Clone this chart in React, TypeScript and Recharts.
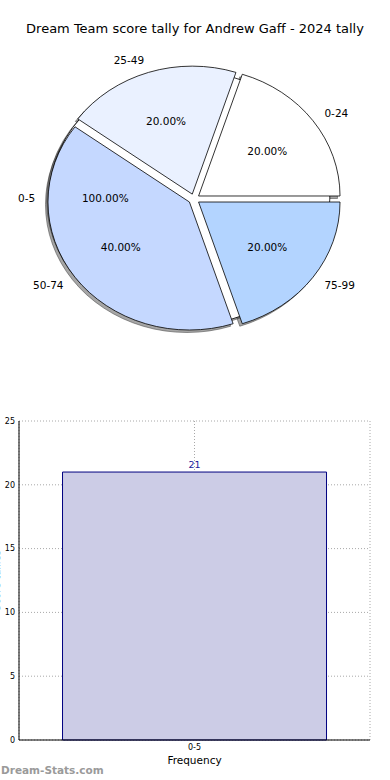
import React from 'react'
import {
  PieChart, Pie, Cell, BarChart, Bar, XAxis, YAxis, CartesianGrid, LabelList,
} from 'recharts'

// pie: share of scores per band (percent)
const bandNames = ['0-24', '25-49', '50-74', '75-99']
const bandShares = [20, 20, 40, 20]
const bandColors = ['#ffffff', '#eaf1ff', '#c5d8ff', '#b3d4ff']

// the second pie (one full slice) that sits under the first one
const lowNames = ['0-5']
const lowShares = [100]

// bar chart: frequency of tallies
const barCats = ['0-5']
const barCounts = [21]
const yTicks = [0, 5, 10, 15, 20, 25]

const FONT = '"DejaVu Sans", Verdana, sans-serif'
const RAD = Math.PI / 180
const ASPECT = 1.105 // the matplotlib pie is a little wider than tall
const EXPLODE = 0.04
const SHADOW = [-2.5, 2.5]

const bandData = bandNames.map((name, i) => ({ name, value: bandShares[i] }))
const lowData = lowNames.map((name, i) => ({ name, value: lowShares[i] }))
const barData = barCats.map((cat, i) => ({ cat, count: barCounts[i] }))

function pt(cx: number, cy: number, rx: number, ry: number, deg: number) {
  return [cx + rx * Math.cos(deg * RAD), cy - ry * Math.sin(deg * RAD)]
}

function sectorPath(cx: number, cy: number, rx: number, ry: number, s: number, e: number) {
  const [x1, y1] = pt(cx, cy, rx, ry, s)
  const [x2, y2] = pt(cx, cy, rx, ry, e)
  const large = Math.abs(e - s) > 180 ? 1 : 0
  const sweep = e > s ? 0 : 1
  return `M${cx},${cy} L${x1},${y1} A${rx},${ry} 0 ${large} ${sweep} ${x2},${y2} Z`
}

function explodedCenter(cx: number, cy: number, r: number, mid: number, explode: number) {
  return [cx + explode * r * ASPECT * Math.cos(mid * RAD), cy - explode * r * Math.sin(mid * RAD)]
}

function makeSector(explode: number, shadow: boolean) {
  return (props: any) => {
    const { cx, cy, outerRadius, startAngle, endAngle, fill } = props
    const mid = (startAngle + endAngle) / 2
    let [ox, oy] = explodedCenter(cx, cy, outerRadius, mid, explode)
    if (shadow) { ox += SHADOW[0]; oy += SHADOW[1] }
    const rx = outerRadius * ASPECT
    const full = Math.abs(endAngle - startAngle) >= 359.99
    const style = shadow
      ? { fill: '#4d4d4d', fillOpacity: 0.5, stroke: '#333', strokeOpacity: 0.6, strokeWidth: 0.8 }
      : { fill, stroke: '#000', strokeWidth: 0.8 }
    if (full) return <ellipse cx={ox} cy={oy} rx={rx} ry={outerRadius} {...style} />
    return <path d={sectorPath(ox, oy, rx, outerRadius, startAngle, endAngle)} {...style} />
  }
}

const sliceShape = makeSector(EXPLODE, false)
const sliceShadow = makeSector(EXPLODE, true)
const lowShape = makeSector(0, false)
const lowShadow = makeSector(0, true)
const noShape = () => <g />

function makeLabel(explode: number) {
  return (props: any) => {
    const { cx, cy, outerRadius, startAngle, endAngle, percent, name } = props
    const mid = (startAngle + endAngle) / 2
    const [ox, oy] = explodedCenter(cx, cy, outerRadius, mid, explode)
    const rx = outerRadius * ASPECT
    const [nx, ny] = pt(ox, oy, rx * 1.1, outerRadius * 1.1, mid)
    const [px, py] = pt(ox, oy, rx * 0.6, outerRadius * 0.6, mid)
    const anchor = Math.cos(mid * RAD) > 0 ? 'start' : 'end'
    return (
      <g fontFamily={FONT} fontSize={10.5} fill="#000">
        <text x={nx} y={ny} textAnchor={anchor} dominantBaseline="central">{name}</text>
        <text x={px} y={py} textAnchor="middle" dominantBaseline="central">{(percent * 100).toFixed(2)}%</text>
      </g>
    )
  }
}

const bandLabel = makeLabel(EXPLODE)
const lowLabel = makeLabel(0)

function CutYLabel(props: any) {
  const { viewBox, value } = props
  const y = viewBox.y + viewBox.height / 2
  const x = viewBox.x - 3.5
  return (
    <text x={x} y={y} transform={`rotate(-90 ${x} ${y})`} textAnchor="middle"
      dominantBaseline="central" fontFamily={FONT} fontSize={10} fill="#000">{value}</text>
  )
}

const pieCommon = { dataKey: 'value', nameKey: 'name', startAngle: 0, endAngle: 360, labelLine: false, isAnimationActive: false }

export default function App() {
  return (
    <div style={{ position: 'absolute', left: 0, top: 0, width: 390, height: 780, background: '#fff', overflow: 'hidden', fontFamily: FONT }}>
      <div style={{ position: 'absolute', top: 21, left: 0, width: 390, textAlign: 'center', fontSize: 13, lineHeight: '16px', color: '#000' }}>
        Dream Team score tally for Andrew Gaff - 2024 tally
      </div>

      <div style={{ position: 'absolute', top: 0, left: 0 }}>
        <PieChart width={390} height={360} margin={{ top: 0, right: 0, bottom: 0, left: 0 }}>
          {/* shadows first, then the full 0-5 disc, then the exploded bands */}
          <Pie {...pieCommon} data={bandData} cx={194} cy={199} outerRadius={128}
            shape={sliceShadow} activeShape={sliceShadow} inactiveShape={sliceShadow} label={false} />
          <Pie {...pieCommon} data={lowData} cx={189.5} cy={198} outerRadius={127}
            shape={lowShadow} activeShape={lowShadow} inactiveShape={lowShadow} label={false} />
          <Pie {...pieCommon} data={lowData} cx={189.5} cy={198} outerRadius={127}
            shape={lowShape} activeShape={lowShape} inactiveShape={lowShape} label={false}>
            <Cell fill="#ffffff" />
          </Pie>
          <Pie {...pieCommon} data={bandData} cx={194} cy={199} outerRadius={128}
            shape={sliceShape} activeShape={sliceShape} inactiveShape={sliceShape} label={bandLabel}>
            {bandData.map((d, i) => <Cell key={d.name} fill={bandColors[i]} />)}
          </Pie>
          <Pie {...pieCommon} data={lowData} cx={189.5} cy={198} outerRadius={127}
            shape={noShape} activeShape={noShape} inactiveShape={noShape} label={lowLabel} />
        </PieChart>
      </div>

      <div style={{ position: 'absolute', top: 400, left: 0 }}>
        <BarChart width={390} height={380} data={barData} barCategoryGap="12.4%"
          margin={{ top: 21, right: 20, bottom: 0, left: 0 }}>
          <XAxis dataKey="cat" height={40} tick={{ fontSize: 8, fill: '#000', fontFamily: FONT }}
            tickLine={false} tickSize={2} tickMargin={2} axisLine={{ stroke: '#000' }}
            label={{ value: 'Frequency', position: 'insideBottom', offset: 16, fontSize: 10.5, fill: '#000', fontFamily: FONT }} />
          <XAxis xAxisId="top" dataKey="cat" orientation="top" height={0} tick={false} tickLine={false} axisLine={{ stroke: '#000' }} />
          <YAxis width={19} domain={[0, 25]} ticks={yTicks} interval={0}
            tick={{ fontSize: 8, fill: '#000', fontFamily: FONT }} tickLine={false} tickSize={2} tickMargin={2}
            axisLine={{ stroke: '#000' }} label={<CutYLabel value="Score tallies" />} />
          <YAxis yAxisId="right" orientation="right" width={0} domain={[0, 25]} ticks={yTicks} tick={false} tickLine={false} axisLine={{ stroke: '#000' }} />
          <Bar dataKey="count" fill="#cccce6" stroke="#000080" strokeWidth={1} isAnimationActive={false}>
            <LabelList dataKey="count" position="top" offset={4} fill="#1a1a99" fontSize={9.5} fontFamily={FONT} />
          </Bar>
          <CartesianGrid stroke="#a8a8a8" strokeDasharray="1 2" />
        </BarChart>
      </div>

      <div style={{ position: 'absolute', left: 1, top: 763, fontSize: 10.5, fontWeight: 'bold', color: '#9a9a9a', lineHeight: '14px' }}>
        Dream-Stats.com
      </div>
    </div>
  )
}
